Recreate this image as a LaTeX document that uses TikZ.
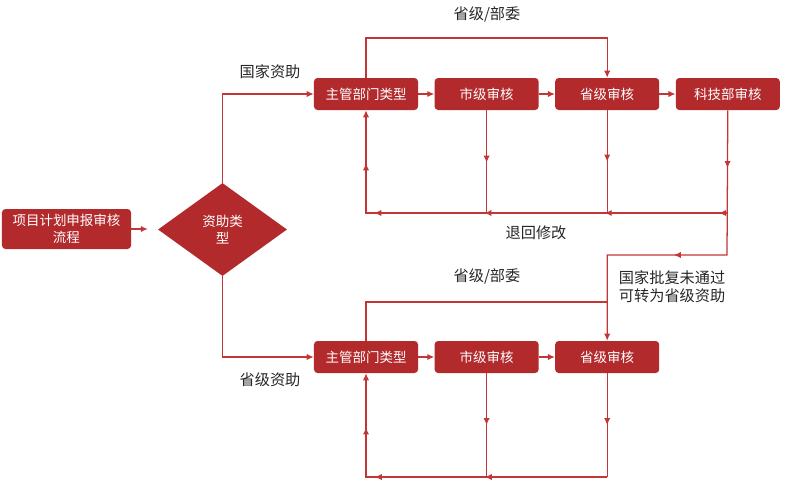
\documentclass[tikz,border=0pt]{standalone}
\usepackage{fontspec}
\setmainfont{Noto Sans CJK SC}
\usepackage{tikz}
\usetikzlibrary{positioning,shapes.geometric,arrows.meta,decorations.markings}
\definecolor{boxred}{RGB}{178,42,44}
\definecolor{linered}{RGB}{194,54,56}
\begin{document}
\begin{tikzpicture}[x=0.025cm,y=-0.025cm]
	
	\tikzset{
		stepbox/.style={fill=boxred, text=white, rounded corners=2.5pt,
			minimum width=2.6cm, minimum height=0.8cm, inner sep=0pt,
			font=\fontsize{9.6}{12}\selectfont},
		startbox/.style={stepbox, minimum width=3.225cm, minimum height=1cm, align=center},
		typebox/.style={diamond, fill=boxred, text=white, aspect=1.4,
			minimum width=3.225cm, minimum height=2.325cm, inner sep=0pt,
			align=center, font=\fontsize{9.6}{12}\selectfont},
		flowlabel/.style={font=\fontsize{10.8}{13}\selectfont, text=black!85},
		link/.style={draw=linered, line width=0.9pt},
		flow/.style={link, -{Latex[length=5pt,width=4.5pt]}},
		midarrow/.style={postaction={decorate, decoration={markings,
					mark=at position #1 with {\arrow{Latex[length=5pt,width=4.5pt]}}}}}
	}
	\useasboundingbox (0,0) rectangle (800,481);
	
	\node[startbox] (start) at (66.5,229) {项目计划申报审核\\流程};
	\node[typebox] (type) at (222.5,229.5) {资助类\\型};
	
	\node[stepbox] (a1) at (366,94) {主管部门类型};
	\node[stepbox, right=0.4cm of a1] (a2) {市级审核};
	\node[stepbox, right=0.4cm of a2] (a3) {省级审核};
	\node[stepbox, right=0.4cm of a3] (a4) {科技部审核};
	
	\node[stepbox] (b1) at (366,357) {主管部门类型};
	\node[stepbox, right=0.4cm of b1] (b2) {市级审核};
	\node[stepbox, right=0.4cm of b2] (b3) {省级审核};
	
	\coordinate (topa) at (366,38);
	\coordinate (backa) at (366,213);
	\coordinate (turn) at (727,255);
	\coordinate (topb) at (366,302);
	\coordinate (backb) at (366,477);
	
	\node[flowlabel] (guojia) at (270,72) {国家资助};
	\node[flowlabel] (shengji) at (270,380) {省级资助};
	\node[flowlabel] (buweia) at (487,14) {省级/部委};
	\node[flowlabel] (buweib) at (487,276) {省级/部委};
	\node[flowlabel] (tuihui) at (536,233) {退回修改};
	\node[flowlabel, anchor=west, align=left] (zhuan) at (614,287) {国家批复未通过\\可转为省级资助};
	
	\draw[flow, shorten >=7pt] (start.east) -- (start.east -| type.west);
	\draw[flow] (type.north) |- (a1.west);
	\draw[flow] (type.south) |- (b1.west);
	
	\draw[flow] (a1) -- (a2);
	\draw[flow] (a2) -- (a3);
	\draw[flow] (a3) -- (a4);
	\draw[flow] (a1.north) -- (topa) -| (a3.north);
	
	\draw[link, midarrow=0.51] (a2.south) -- (a2.south |- backa);
	\draw[link, midarrow=0.5] (a3.south) -- (a3.south |- backa);
	\draw[flow, midarrow=0.165, midarrow=0.565] (a4.south) -- (turn) -| (b3.north);
	\draw[flow, midarrow=0.019, midarrow=0.265, midarrow=0.524, midarrow=0.761, midarrow=0.886]
		(a4.south |- backa) -- (backa) -- (a1.south);
	
	\draw[flow] (b1) -- (b2);
	\draw[flow] (b2) -- (b3);
	\draw[link] (b1.north) -- (topb) -- (b3.north |- topb);
	
	\draw[link, midarrow=0.5] (b2.south) -- (b2.south |- backb);
	\draw[link, midarrow=0.5] (b3.south) -- (b3.south |- backb);
	\draw[flow, midarrow=0.355, midarrow=0.674, midarrow=0.843]
		(b3.south |- backb) -- (backb) -- (b1.south);
	
\end{tikzpicture}
\end{document}
